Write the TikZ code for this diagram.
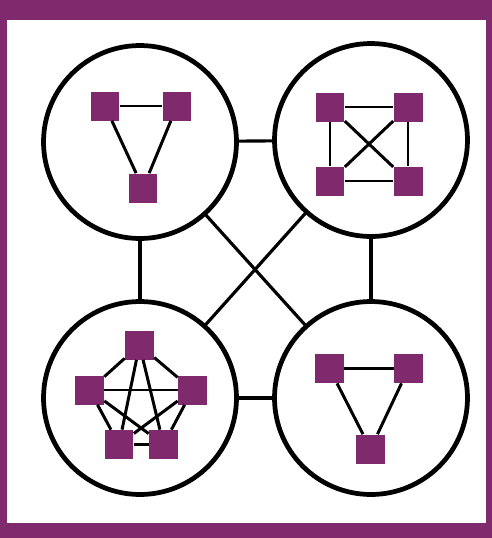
\documentclass[tikz,border=0pt]{standalone}
\usetikzlibrary{positioning}

\definecolor{roxo}{RGB}{127,42,108}

\begin{document}
\begin{tikzpicture}[x=0.02cm,y=-0.02cm,
  grupo/.style={circle,draw=black,line width=2.7pt,minimum size=3.86cm,inner sep=0pt,outer sep=0pt},
  no/.style={rectangle,fill=roxo,minimum size=0.58cm,inner sep=0pt},
  liga/.style={line width=1.8pt},
  aresta/.style={line width=1.7pt}]

% Moldura
\fill[roxo] (0,0) rectangle (492,538);
\fill[white] (7,20) rectangle (486,523);
\useasboundingbox (0,0) rectangle (492,538);

% Os quatro grupos
\node[grupo] (g1) at (140,142) {};
\node[grupo] (g2) at (371,140) {};
\node[grupo] (g3) at (140,398) {};
\node[grupo] (g4) at (371,398) {};

% Ligacoes entre os grupos
\foreach \u/\v in {g1/g2,g1/g3,g2/g4,g3/g4,g1/g4,g2/g3} {
  \draw[liga] (\u) -- (\v);
}

% Triangulo de cima
\node[no] (a1) at (105,106) {};
\node[no] (a2) at (177,106) {};
\node[no] (a3) at (143,188) {};
\foreach \u/\v in {a1/a2,a1/a3,a2/a3} {
  \draw[aresta] (\u) -- (\v);
}

% Quadrado completo
\node[no] (b1) at (330,107) {};
\node[no] (b2) at (408,107) {};
\node[no] (b3) at (330,181) {};
\node[no] (b4) at (408,181) {};
\foreach \u/\v in {b1/b2,b1/b3,b1/b4,b2/b3,b2/b4,b3/b4} {
  \draw[aresta] (\u) -- (\v);
}

% Pentagono completo
\node[no] (c1) at (139.5,345) {};
\node[no] (c2) at (89.5,390) {};
\node[no] (c3) at (192.5,390) {};
\node[no] (c4) at (119,444.5) {};
\node[no] (c5) at (163.5,444.5) {};
\foreach \i in {1,...,4} {
  \pgfmathtruncatemacro{\k}{\i+1}
  \foreach \j in {\k,...,5} {
    \draw[aresta] (c\i) -- (c\j);
  }
}

% Triangulo de baixo
\node[no] (d1) at (329.5,368.5) {};
\node[no] (d2) at (408.5,368.5) {};
\node[no] (d3) at (370.5,449) {};
\foreach \u/\v in {d1/d2,d1/d3,d2/d3} {
  \draw[aresta] (\u) -- (\v);
}

\end{tikzpicture}
\end{document}
